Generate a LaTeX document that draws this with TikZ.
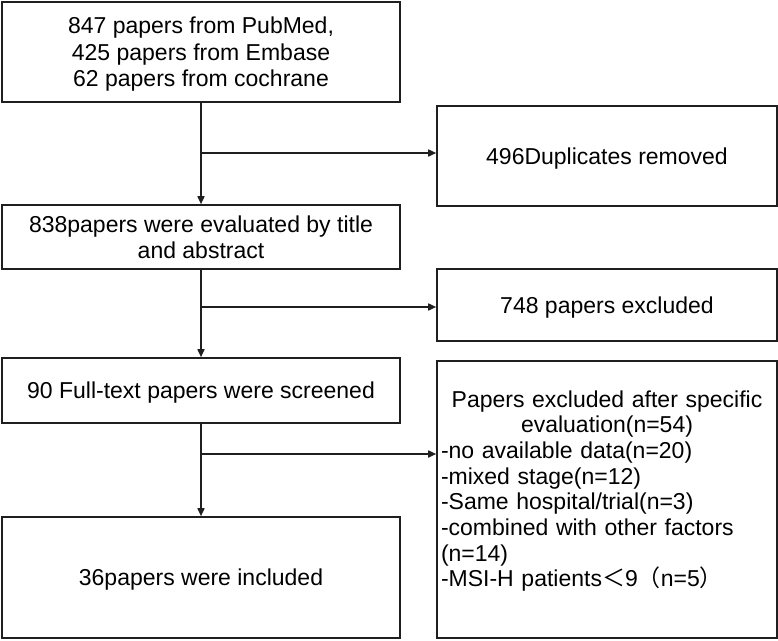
\documentclass[tikz,border=0pt]{standalone}
\usepackage{fontspec}
\setmainfont{Liberation Sans}
\newfontfamily\cjk{Noto Sans CJK SC}
\usetikzlibrary{arrows.meta}
\tikzset{
  box/.style={draw=black!88, line width=1.6pt, rectangle, inner sep=0pt,
    font=\fontsize{23}{26.5}\selectfont, align=center, text depth=0pt},
  conn/.style={draw=black!88, line width=1.6pt},
  arr/.style={conn, -{Triangle[length=8pt,width=7pt]}}
}
\begin{document}
\begin{tikzpicture}[x=1pt,y=-1pt]
\useasboundingbox (0,0) rectangle (778,640);
% left column
\node[box, minimum width=398pt, minimum height=100pt] (b1) at (201,52)
  {847 papers from PubMed,\\425 papers from Embase\\62 papers from cochrane};
\node[box, minimum width=398pt, minimum height=64pt] (b2) at (201,237)
  {838papers were evaluated by title\\and abstract};
\node[box, minimum width=398pt, minimum height=65pt] (b3) at (201,390.5)
  {90 Full-text papers were screened};
\node[box, minimum width=398pt, minimum height=121pt] (b4) at (201,577.5)
  {36papers were included};
% right column
\node[box, minimum width=340pt, minimum height=100pt] (dup) at (607,156)
  {496Duplicates removed};
\node[box, minimum width=340pt, minimum height=72pt] (exc1) at (607,305)
  {748 papers excluded};
\node[box, minimum width=340pt, minimum height=277pt] (exc2) at (607,499.5) {};
\node[font=\fontsize{23}{25.7}\selectfont, text width=332pt, inner sep=0pt] (exc2t) at (607,491)
  {\centering Papers excluded after specific\\evaluation(n=54)\par
   \raggedright -no available data(n=20)\\-mixed stage(n=12)\\-Same hospital/trial(n=3)\\-combined with other factors\\(n=14)\\-MSI-H patients{\cjk ＜}9{\cjk （}n=5{\cjk ）}\par};
% junctions
\coordinate (j1) at (201,153);
\coordinate (j2) at (201,307);
\coordinate (j3) at (201,454);
% connectors
\draw[arr] (b1.south) -- (b2.north);
\draw[arr] (b2.south) -- (b3.north);
\draw[arr] (b3.south) -- (b4.north);
\draw[arr] (j1) -- (j1 -| dup.west);
\draw[arr] (j2) -- (j2 -| exc1.west);
\draw[arr] (j3) -- (j3 -| exc2.west);
\end{tikzpicture}
\end{document}
